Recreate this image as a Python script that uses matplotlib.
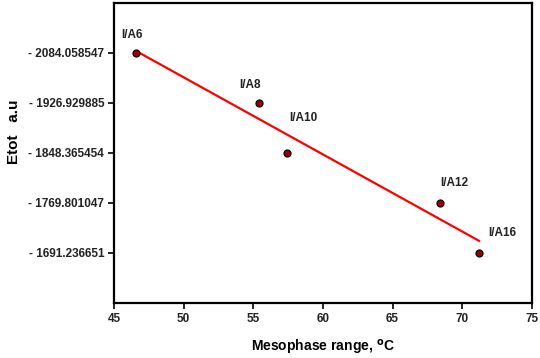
import matplotlib
matplotlib.use('Agg')
import matplotlib.pyplot as plt
import numpy as np

plt.rcParams['font.family'] = ['Liberation Sans', 'DejaVu Sans']
plt.rcParams['font.weight'] = 'bold'

# data
compounds = ['I/A6', 'I/A8', 'I/A10', 'I/A12', 'I/A16']
mesophase = np.array([46.6, 55.4, 57.4, 68.4, 71.2])
etot_labels = ['- 2084.058547', '- 1926.929885', '- 1848.365454',
               '- 1769.801047', '- 1691.236651']
# the y axis is evenly spaced by rank, not by value
etot_pos = np.arange(len(etot_labels))

# label offsets in points (dx, dy)
label_offsets = [(-3, 13), (-6, 13), (12, 25), (10, 14), (17, 14)]

fig = plt.figure(figsize=(5.4, 3.58), dpi=100)
ax = fig.add_axes([0.211, 0.154, 0.774, 0.838])

# linear fit over the rank positions
coef = np.polyfit(mesophase, etot_pos, 1)
xfit = np.array([mesophase.min(), mesophase.max()])
ax.plot(xfit, np.polyval(coef, xfit), color='#ff0000', linewidth=1.6, zorder=2)

ax.scatter(mesophase, etot_pos, s=26, color='#9b0000', edgecolor='black',
           linewidth=0.8, zorder=3)

for name, x, y, (dx, dy) in zip(compounds, mesophase, etot_pos, label_offsets):
    ax.annotate(name, (x, y), xytext=(dx, dy), textcoords='offset points',
                ha='center', va='center', fontsize=8.5, fontweight='bold',
                color='#222222')

ax.set_xlim(45, 75)
ax.set_xticks(np.arange(45, 76, 5))
ax.set_ylim(5, -1)
ax.set_yticks(etot_pos)
ax.set_yticklabels(etot_labels)

ax.tick_params(direction='out', length=4, width=1.2, labelsize=8.5, pad=3)
for lab in ax.get_xticklabels() + ax.get_yticklabels():
    lab.set_fontweight('bold')
    lab.set_color('#222222')
for sp in ax.spines.values():
    sp.set_linewidth(1.6)

ax.set_xlabel('Mesophase range, $^{\\mathbf{o}}$C', fontsize=10, fontweight='bold',
              labelpad=10)
ax.set_ylabel('Etot   a.u', fontsize=11, fontweight='bold', labelpad=5, y=0.57)

fig.savefig('out.png', dpi=100)
